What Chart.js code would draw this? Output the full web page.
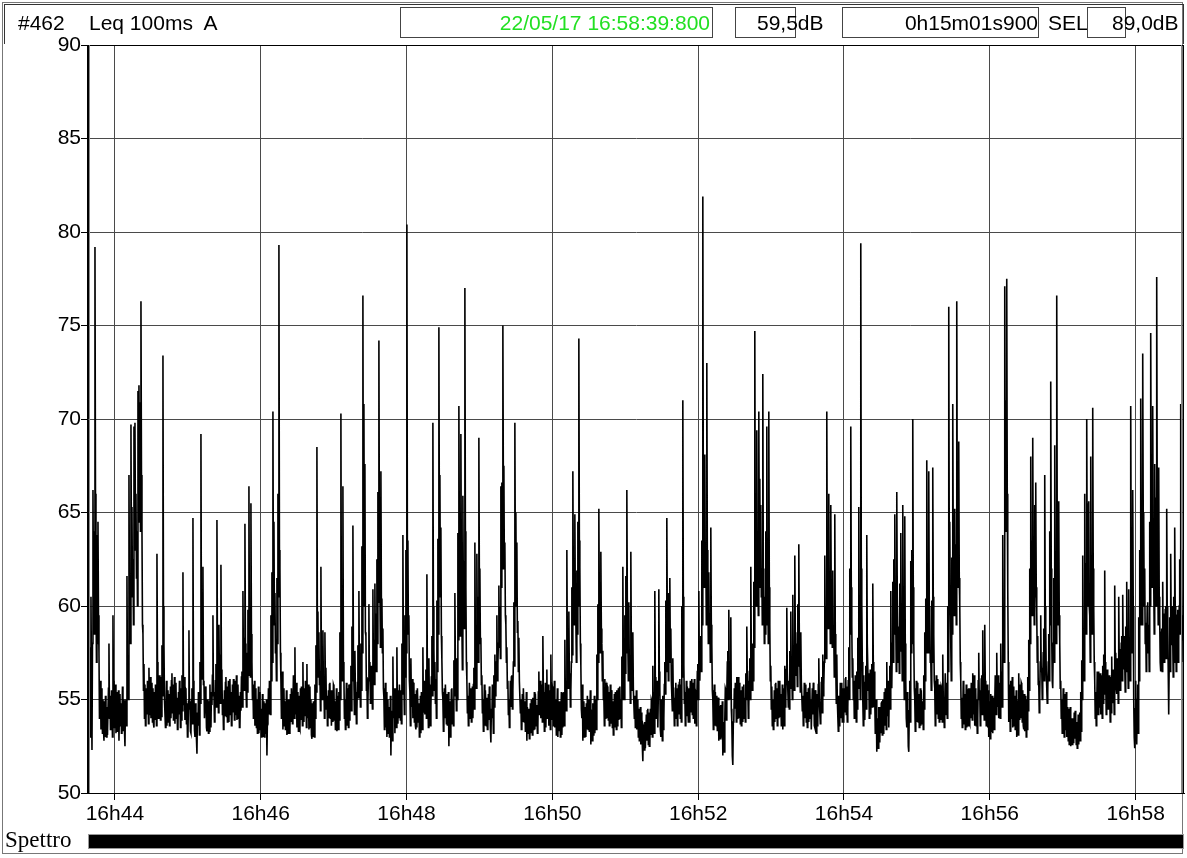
<!DOCTYPE html>
<html>
<head>
<meta charset="utf-8">
<script src="https://cdn.jsdelivr.net/npm/chart.js@4.4.1/dist/chart.umd.min.js"></script>
<style>
  html, body { margin:0; padding:0; background:#fff; }
  body { width:1187px; height:858px; position:relative; overflow:hidden;
         font-family:"Liberation Sans", Arial, sans-serif; color:#000; }
  #wrap { position:absolute; left:0; top:0; width:1187px; height:858px; }
  .frame { position:absolute; left:2px; top:2px; width:1181px; height:852px; border:1px solid #777; box-sizing:border-box; }
  .hdr { position:absolute; left:4px; top:4px; width:1180px; height:40px; border:1px solid #333; border-bottom:none; box-sizing:border-box; }
  .t { position:absolute; font-size:21px; line-height:31px; top:7px; white-space:nowrap; }
  .box { position:absolute; top:7px; height:31px; border:1px solid #444; box-sizing:border-box; }
  .spettro { position:absolute; left:5px; top:828px; font-family:"Liberation Serif","Times New Roman",serif; font-size:23px; line-height:24px; }
  .bar { position:absolute; left:88px; top:834px; width:1096px; height:15px; background:#000; border:1px solid #999; box-sizing:border-box; }
</style>
</head>
<body>
<div class="frame"></div>
<div class="hdr"></div>
<div id="wrap"><canvas id="c" width="1187" height="858"></canvas></div>

<div class="t" style="left:18px">#462</div>
<div class="t" style="left:89px">Leq 100ms&nbsp; A</div>
<div class="box" style="left:400px;width:313px"></div>
<div class="t" style="left:400px;width:310px;text-align:right;color:#22e022">22/05/17 16:58:39:800</div>
<div class="box" style="left:735px;width:61px"></div>
<div class="t" style="left:757px">59,5dB</div>
<div class="box" style="left:842px;width:197px"></div>
<div class="t" style="left:842px;width:196px;text-align:right">0h15m01s900</div>
<div class="t" style="left:1048px">SEL</div>
<div class="box" style="left:1087px;width:39px"></div>
<div class="t" style="left:1112px">89,0dB</div>

<div class="spettro">Spettro</div>
<div class="bar"></div>

<script>
// ---- data (Leq 100ms A, dB) ----
const FIRST_SAMPLE_MIN = 43 + 38.7 / 60;   // 16:43:38.7, minutes after 16h00
const INTERVAL_MIN = 0.8227 / 60;          // each interval is 0.8227 s; two readings per interval
const AXIS_START_MIN = 43 + 37.9 / 60;     // 16:43:37.9
const AXIS_END_MIN = 58 + 39.8 / 60;       // 16:58:39.8
const timeTicks = [44, 46, 48, 50, 52, 54, 56, 58];
const timeTickLabels = ["16h44", "16h46", "16h48", "16h50", "16h52", "16h54", "16h56", "16h58"];
const levelTicks = [50, 55, 60, 65, 70, 75, 80, 85, 90];

// first reading of each interval
const leqA = [
  52.0,57.8,60.5,52.3,66.2,64.0,79.2,60.4,63.8,64.5,57.5,54.2,53.4,54.9,55.0,52.8,53.0,54.3,54.6,53.1,58.0,55.2,53.6,54.4,59.5,56.0,54.0,53.2,55.2,53.7,52.8,55.3,54.8,53.9,53.3,54.7,52.5,55.0,61.6,57.3,
  67.0,60.2,69.7,65.3,62.5,69.6,69.8,66.0,64.0,71.5,71.8,70.9,76.3,64.1,58.5,56.9,55.8,53.9,54.2,55.4,56.7,54.6,54.0,55.9,55.6,53.5,53.9,55.2,62.8,56.1,54.5,55.7,56.2,57.9,73.4,58.0,55.0,54.3,53.6,55.5,
  55.3,53.9,54.0,56.4,55.8,54.5,53.7,55.9,55.1,53.6,54.2,55.0,55.6,56.3,61.8,54.7,53.9,55.5,54.8,53.1,58.7,54.9,53.2,55.6,64.7,55.1,53.0,54.2,52.1,53.6,54.6,57.0,69.2,60.3,62.1,56.0,54.0,55.2,53.3,54.6,
  54.9,55.8,53.5,54.7,59.5,55.4,54.2,56.9,64.6,56.2,59.0,57.4,62.2,56.3,55.0,53.7,54.1,56.2,55.7,54.4,53.8,56.1,55.4,53.9,54.3,55.6,56.0,54.5,53.9,55.8,55.2,53.6,54.4,56.5,60.8,58.3,64.4,56.0,57.5,59.8,
  66.4,58.9,65.5,57.0,55.8,54.4,53.6,55.3,55.0,54.0,53.2,55.1,54.5,53.4,53.0,54.6,54.8,53.3,52.0,53.9,54.2,56.0,59.5,61.8,70.4,64.5,60.7,58.2,61.5,66.0,79.3,62.0,56.0,54.8,53.4,55.6,54.9,53.7,53.1,55.0,
  55.0,53.4,53.8,55.6,54.7,55.9,57.8,54.2,53.5,54.8,55.2,53.4,53.9,55.5,57.0,53.8,54.1,55.3,56.9,54.0,53.4,55.7,55.0,52.9,53.0,54.6,55.8,57.9,68.5,59.7,58.6,56.4,62.1,57.3,58.7,55.9,58.6,56.7,55.2,53.9,
  54.0,55.9,55.5,53.6,53.8,55.7,54.9,53.8,53.3,55.0,55.4,58.6,70.3,59.1,66.4,56.2,55.0,54.2,53.6,55.4,55.8,54.3,56.8,58.9,64.3,56.0,57.6,55.2,54.4,57.9,60.8,56.3,58.0,63.2,76.6,70.8,67.6,58.4,56.2,54.9,
  60.1,57.0,55.0,56.8,60.9,58.2,61.2,59.6,62.5,66.1,74.2,61.0,67.2,60.4,58.8,55.1,54.2,53.5,53.0,55.0,54.6,53.3,52.0,54.4,57.3,54.0,53.2,55.6,57.8,53.7,54.0,55.8,55.5,58.0,63.8,55.9,59.5,63.0,80.4,63.5,
  59.5,55.4,57.2,54.6,54.0,55.7,55.3,53.4,53.5,55.6,54.8,53.1,53.2,55.4,57.8,54.3,54.2,56.6,61.7,55.0,57.2,55.8,54.6,58.4,69.8,57.7,57.0,56.1,60.3,63.6,74.9,67.0,64.2,57.1,55.0,53.7,54.0,55.8,55.3,53.6,
  52.5,54.9,53.8,55.6,55.0,57.1,60.7,56.0,57.2,63.9,70.7,62.5,69.2,59.1,65.9,62.4,77.0,61.0,56.0,55.2,54.3,55.9,55.6,54.1,54.0,56.7,63.4,58.0,62.8,60.5,69.0,62.0,58.3,56.3,55.0,54.2,53.6,55.5,55.1,53.5,
  53.9,55.2,52.7,54.0,54.8,56.3,57.4,55.5,59.5,56.9,61.1,60.0,66.4,66.6,75.0,67.5,63.4,59.0,57.8,56.0,55.0,54.4,54.6,56.3,55.5,60.2,69.8,65.0,63.4,59.2,58.3,56.0,55.0,53.5,53.8,55.6,54.9,53.7,52.8,54.6,
  54.5,53.0,53.2,54.8,55.1,53.7,53.4,55.3,54.7,53.6,56.5,54.4,54.0,55.6,58.4,55.0,54.3,53.5,56.6,54.2,53.6,55.5,57.4,53.9,55.6,54.6,53.5,54.8,54.2,53.0,53.3,54.6,54.0,53.1,53.5,55.4,58.2,56.0,63.0,57.1,
  59.7,56.4,55.5,61.0,67.2,62.0,64.9,59.3,61.9,64.5,74.3,62.1,56.8,54.0,52.8,54.9,54.6,53.0,53.4,55.2,55.0,53.6,52.6,54.3,54.8,53.5,53.2,55.0,57.4,60.1,65.2,59.8,62.9,58.0,57.6,55.2,56.1,54.8,54.0,55.6,
  55.4,54.0,53.7,55.2,54.9,53.4,53.5,55.1,55.5,54.3,53.9,55.7,55.0,57.3,62.1,57.0,59.5,61.6,66.2,58.0,60.2,56.8,62.9,57.5,58.6,55.6,55.2,53.9,53.4,54.8,54.5,52.9,52.6,54.0,51.7,53.5,53.8,52.4,52.8,54.5,
  54.3,52.6,53.1,54.9,56.8,55.4,60.8,56.2,54.5,53.5,60.9,55.6,53.0,54.6,55.2,54.0,57.0,60.3,64.7,58.2,60.7,61.5,58.8,56.0,57.2,55.1,54.0,55.9,55.6,54.3,54.2,56.1,55.8,60.0,71.0,56.9,55.4,54.6,54.1,55.7,
  55.6,54.6,54.3,56.1,55.9,54.4,53.7,55.4,55.0,56.9,60.8,56.0,58.4,63.5,81.9,66.0,68.1,62.8,73.0,60.9,61.8,59.6,64.2,58.0,55.0,54.2,53.6,55.4,55.2,53.3,52.8,54.5,54.7,53.2,52.0,53.6,54.0,55.5,55.3,57.6,
  59.8,55.0,59.4,53.8,51.5,53.9,54.5,55.6,56.2,54.7,54.0,55.3,55.5,53.9,53.8,55.8,55.1,56.4,58.9,55.7,54.6,57.2,62.1,56.9,58.0,61.3,74.7,63.0,69.4,62.2,70.4,66.8,65.4,62.0,72.4,61.1,60.5,64.0,69.6,60.8,
  70.4,59.0,56.8,55.7,55.0,53.6,53.8,55.9,55.6,54.3,54.0,56.0,55.3,54.2,53.4,55.3,56.8,55.0,59.9,56.5,56.0,57.6,59.7,56.8,60.6,57.3,62.7,58.5,58.0,60.1,63.3,57.2,58.6,56.0,55.2,54.1,54.0,55.8,55.4,53.6,
  53.8,55.9,55.0,53.4,54.2,55.5,53.5,54.7,55.3,53.9,57.2,55.0,54.0,56.2,57.4,55.8,62.7,60.0,70.4,62.3,66.0,61.0,65.4,60.5,61.9,58.4,64.9,56.7,57.4,55.0,55.2,54.3,54.0,55.9,55.6,54.0,54.3,56.2,55.7,54.6,
  57.8,62.0,69.6,59.0,57.2,56.0,54.6,55.5,56.5,58.3,65.3,57.5,79.4,60.2,55.0,56.3,53.9,56.8,63.8,58.0,56.4,55.0,54.2,56.9,61.2,54.6,55.0,53.3,52.2,53.8,54.6,52.7,53.2,54.9,55.0,53.4,53.6,55.3,57.0,54.1,
  53.5,56.8,60.8,55.6,61.3,62.5,64.9,59.2,66.1,60.5,58.9,61.2,63.9,58.6,65.4,57.0,64.8,56.0,53.5,54.4,52.2,56.0,62.4,63.0,70.0,58.2,55.0,54.2,53.8,55.6,55.3,53.7,53.6,55.5,54.9,56.3,58.6,60.4,67.8,60.6,
  67.2,59.6,57.2,60.3,67.4,58.5,55.6,54.6,54.2,56.1,55.8,54.0,53.9,55.6,57.4,55.1,54.8,56.4,55.9,60.0,76.0,64.5,58.0,62.6,70.8,63.0,65.2,63.3,76.3,66.0,68.8,60.1,56.0,55.1,54.2,55.8,55.3,54.0,53.5,55.4,
  55.6,53.7,54.0,55.9,56.4,54.2,53.6,55.4,55.0,54.0,57.5,55.5,54.2,56.3,58.7,55.6,59.0,55.2,54.4,53.5,53.0,54.6,55.3,53.4,53.2,55.1,54.8,56.3,57.5,54.6,54.0,55.9,58.0,56.5,63.8,60.0,77.1,71.0,77.5,61.0,
  53.8,55.0,56.0,54.4,53.5,55.7,55.2,53.6,53.0,54.8,56.4,53.9,54.0,55.8,55.5,53.4,53.3,54.9,55.0,56.2,58.2,62.0,68.0,63.5,69.0,62.3,65.4,66.6,59.7,58.4,56.0,55.2,59.5,56.7,56.0,58.8,67.0,59.0,56.5,55.4,
  58.5,64.0,72.0,58.3,55.6,61.5,68.6,60.4,76.6,62.4,65.6,58.1,56.0,55.0,54.0,54.8,55.3,53.6,53.0,54.3,54.5,53.1,52.5,54.0,54.0,52.8,52.9,53.7,53.8,52.9,52.6,54.3,55.4,57.1,62.7,58.0,66.0,62.3,70.0,65.5,
  65.6,59.5,68.0,62.0,70.6,60.0,56.0,55.4,54.6,55.9,56.5,54.8,54.2,55.6,56.8,57.4,61.9,56.0,55.0,56.4,54.6,55.2,56.2,57.3,54.8,56.0,61.1,57.5,55.3,56.8,60.5,57.7,56.0,58.4,60.6,56.6,57.0,58.9,61.3,57.8,
  60.9,58.3,70.7,60.5,66.2,55.0,52.4,56.0,52.6,55.8,59.4,63.0,71.1,62.4,73.5,64.6,62.0,59.1,58.0,60.2,59.0,64.5,74.6,66.0,70.7,61.4,67.6,65.8,77.6,62.0,67.4,59.3,56.5,58.8,61.3,59.6,57.8,60.0,65.2,59.0,
  54.2,59.4,62.8,57.9,58.4,60.5,64.2,58.8,57.0,59.8,58.2,62.5,70.8,61.0,59.5
];

// second reading of each interval
const leqB = [
  55.5,53.0,56.0,58.0,60.0,58.5,66.0,57.0,58.0,59.5,54.0,56.0,55.6,53.2,53.4,54.9,55.2,53.0,53.1,55.6,54.0,53.4,55.5,53.0,55.0,53.5,55.8,55.4,53.3,55.5,54.6,53.6,53.2,55.7,55.0,53.4,54.9,53.6,56.0,55.0,
  60.0,58.0,62.0,60.5,59.0,63.0,64.0,61.5,60.0,64.5,66.0,64.0,67.0,59.0,55.5,54.0,53.6,55.6,56.0,53.7,54.2,56.2,55.8,53.8,53.7,55.4,55.8,53.6,57.0,54.0,56.3,53.9,54.1,55.2,60.0,55.0,53.5,56.0,55.4,53.8,
  53.6,55.7,56.0,54.3,53.9,56.2,55.5,54.0,53.4,55.4,56.0,53.5,53.9,54.4,55.4,56.2,55.6,53.7,53.0,54.9,54.5,53.3,55.0,53.7,56.0,53.4,54.8,52.9,54.3,55.4,53.1,54.8,58.0,56.1,55.8,54.0,55.7,53.5,55.0,53.2,
  53.3,54.0,55.4,56.3,55.2,53.8,56.0,54.6,57.5,54.3,55.8,54.8,56.6,54.2,53.4,55.5,55.9,54.1,53.8,56.0,55.6,54.2,53.6,55.8,56.1,53.9,54.2,56.3,55.7,54.0,53.5,55.4,56.2,54.6,56.8,55.5,58.0,54.6,55.4,56.3,
  58.0,56.2,58.5,55.0,54.0,56.0,55.6,53.5,53.2,55.7,55.4,53.4,53.0,55.3,54.9,53.0,53.2,55.0,54.0,55.6,56.0,54.2,56.0,57.0,60.0,59.0,57.5,56.0,58.0,60.5,63.0,57.5,54.0,56.5,55.4,53.6,53.4,55.5,55.0,53.2,
  53.2,55.3,55.6,53.7,56.3,54.0,54.4,55.9,55.4,53.3,53.5,55.6,55.7,53.6,54.2,55.6,56.0,53.5,54.0,55.8,55.6,53.5,53.1,54.8,54.9,53.0,54.0,55.4,58.0,56.2,55.8,54.4,56.5,55.0,55.6,54.0,55.7,54.5,53.6,55.5,
  55.8,54.0,53.6,55.5,55.8,53.9,53.4,55.6,55.2,53.4,53.9,55.0,58.0,56.0,57.0,54.0,53.4,55.9,55.6,53.5,53.9,55.8,54.4,56.0,57.5,54.2,55.4,53.7,55.9,55.1,56.4,54.6,55.5,57.5,62.0,60.0,58.6,55.5,54.0,56.1,
  56.0,54.8,56.8,54.5,56.6,55.8,57.0,56.5,58.0,60.2,63.0,57.8,60.0,57.5,55.6,53.4,55.9,55.4,54.8,53.2,53.0,55.2,54.2,52.8,54.2,55.6,55.0,53.5,54.4,55.5,55.8,53.9,53.7,55.3,57.0,54.2,56.2,57.5,62.0,58.5,
  56.0,53.6,54.8,56.1,55.9,53.8,53.6,55.5,55.6,53.8,53.0,55.2,55.4,53.4,54.5,56.0,55.9,54.0,56.0,53.5,54.8,53.6,56.2,55.2,60.0,55.5,54.8,54.0,56.5,58.5,64.0,60.5,58.4,55.4,53.3,55.6,55.8,53.7,53.6,55.4,
  54.6,53.0,55.5,53.7,53.6,55.2,56.8,54.4,55.0,58.2,63.0,58.4,61.5,56.6,60.0,58.8,64.0,57.0,54.3,53.6,55.9,54.0,53.8,55.7,55.8,54.5,57.5,55.6,58.0,57.0,61.0,58.0,55.8,54.3,53.3,55.8,55.5,53.6,53.4,55.3,
  55.7,53.5,54.5,55.8,53.2,54.6,55.2,57.0,56.0,58.0,57.8,57.2,61.0,62.0,66.0,62.0,59.5,57.0,55.6,54.2,53.5,56.0,56.2,54.5,57.0,56.8,62.0,60.0,58.6,56.5,56.0,54.3,53.4,55.3,55.6,53.8,53.3,55.4,54.6,53.2,
  52.9,54.8,55.0,53.1,53.4,55.4,55.3,53.6,53.2,55.4,54.2,56.0,55.8,53.8,55.4,53.3,55.9,55.3,54.0,55.8,55.4,53.4,54.6,55.7,53.6,56.0,55.0,53.1,55.6,54.8,54.9,53.0,55.4,54.8,55.3,53.6,55.0,54.4,57.5,55.6,
  56.2,54.6,57.0,57.4,61.0,59.0,60.0,57.0,58.5,60.0,63.5,58.0,54.5,55.8,54.6,53.0,53.2,54.8,55.2,53.4,53.3,55.5,54.4,52.8,53.1,55.2,54.9,53.4,55.0,57.0,60.0,57.5,58.8,56.0,55.0,53.6,54.0,55.9,55.7,53.9,
  53.6,55.8,55.5,53.5,53.1,55.3,55.4,53.4,53.6,55.6,55.6,54.0,53.5,55.0,57.0,55.0,56.4,57.5,60.0,56.0,56.5,54.8,57.8,55.5,55.6,54.0,53.5,55.5,55.0,53.0,52.8,54.6,54.3,52.5,53.6,52.3,52.4,54.2,54.4,52.6,
  52.5,54.5,55.0,53.0,54.5,53.2,56.0,54.0,56.0,55.3,56.5,53.4,55.0,52.8,53.4,55.8,55.3,56.5,59.0,56.0,57.0,57.5,56.0,54.4,55.0,53.6,55.6,54.0,53.6,55.8,55.9,54.0,53.8,56.2,60.5,54.8,53.6,56.0,55.7,53.8,
  53.8,56.0,55.9,54.2,54.0,56.1,55.5,53.6,56.5,55.0,57.0,58.0,56.5,59.0,65.0,61.0,61.5,59.0,63.0,58.0,58.5,57.0,59.0,55.5,53.4,55.8,55.4,53.6,53.3,55.1,54.6,52.9,53.0,54.9,53.8,52.2,55.6,53.9,57.0,55.0,
  55.6,57.0,54.5,52.0,53.8,55.6,55.9,53.8,54.0,56.2,55.9,53.7,53.6,55.7,55.6,54.0,53.8,55.0,56.0,54.0,56.5,55.0,57.5,55.5,56.0,57.8,63.0,60.0,62.0,59.5,63.0,61.0,60.5,59.0,62.0,58.0,58.5,59.0,61.5,58.0,
  61.0,56.0,54.5,53.6,53.4,55.5,55.8,54.0,53.6,56.0,55.9,54.1,53.6,55.8,55.6,53.6,54.6,56.6,56.5,54.6,54.5,55.6,56.5,55.0,57.0,55.5,58.6,56.3,55.7,56.8,58.5,55.4,56.0,54.4,53.6,55.9,55.7,53.8,53.5,55.6,
  55.6,54.0,53.4,55.6,55.9,53.6,55.5,53.2,53.6,55.8,55.0,53.7,55.9,54.3,55.2,57.0,58.5,57.2,62.0,58.8,60.5,58.0,60.2,57.8,58.0,56.2,58.5,54.8,55.0,53.3,53.6,55.9,55.8,53.8,53.8,55.6,56.1,54.2,53.8,56.0,
  55.0,58.5,61.0,56.2,55.0,54.0,56.3,53.8,54.5,55.6,59.0,55.0,62.0,57.0,53.6,54.2,55.9,54.5,58.0,55.5,54.0,56.6,56.0,54.6,57.0,56.5,53.2,55.0,54.0,52.4,52.9,54.6,54.8,53.1,53.2,55.4,55.6,53.4,54.9,56.0,
  55.6,54.5,56.0,58.0,57.0,58.5,60.0,56.5,60.5,57.0,56.4,57.6,59.0,56.0,59.5,55.0,58.0,54.0,55.4,52.5,54.4,53.8,57.5,58.0,61.0,55.6,53.3,56.0,55.9,53.8,53.5,55.6,55.5,53.7,53.4,54.5,56.0,57.5,60.5,57.5,
  60.0,57.0,55.5,57.0,60.5,56.0,53.6,56.3,56.0,54.0,53.8,55.8,55.7,53.8,55.0,53.5,56.4,54.2,54.0,56.5,63.0,60.0,56.0,58.5,63.0,59.5,60.5,59.0,65.0,61.0,61.5,57.0,54.0,53.5,56.0,53.7,53.4,55.8,55.5,53.6,
  53.8,55.6,55.9,53.9,54.4,56.3,55.6,53.6,53.2,56.0,55.0,53.6,56.1,54.2,55.6,53.9,56.0,53.6,55.8,55.5,54.9,52.9,53.3,55.2,54.9,53.4,56.3,54.2,55.0,56.3,55.7,54.0,55.5,54.6,58.5,57.0,66.0,64.0,66.0,57.0,
  55.8,53.3,54.0,56.2,55.6,53.6,53.4,55.5,54.9,53.1,54.2,55.8,55.9,53.8,53.6,55.3,55.2,53.0,53.4,54.4,55.5,58.0,61.0,59.5,62.0,59.0,60.5,61.0,57.0,55.8,54.3,57.0,56.5,55.0,57.5,56.0,60.0,56.5,54.8,57.0,
  56.0,59.0,62.0,56.0,58.0,57.0,61.0,58.0,64.0,59.0,59.5,55.6,54.0,53.2,55.6,53.0,53.4,55.4,54.6,52.8,52.6,54.6,54.0,52.6,52.7,54.3,54.4,52.6,52.4,54.2,54.0,52.8,53.3,55.0,57.5,56.0,59.0,58.5,62.0,60.0,
  60.0,57.0,61.0,58.5,62.0,57.0,54.0,53.6,56.5,54.2,54.6,56.4,56.3,54.0,54.8,55.3,57.0,54.2,56.6,54.5,56.3,53.8,54.3,55.0,56.6,54.2,57.0,55.6,57.2,54.8,57.0,55.5,58.0,56.0,57.5,58.4,55.4,56.5,58.0,55.6,
  57.5,56.0,62.0,57.5,60.0,53.0,54.5,53.0,55.0,53.2,56.0,59.0,64.0,59.0,65.0,60.0,58.0,56.5,60.0,57.5,56.5,60.0,66.0,61.0,63.0,58.5,62.0,60.0,66.0,59.0,60.5,57.0,58.6,56.5,58.0,57.0,59.8,57.2,60.0,56.6,
  57.0,56.5,59.0,60.0,56.2,57.0,60.0,56.5,59.5,57.0,60.0,58.5,63.0,58.2,57.0
];

// both readings of each interval, in time order (minutes after 16h00)
const points = [];
leqA.forEach((v, i) => {
  points.push({ x: FIRST_SAMPLE_MIN + i * INTERVAL_MIN, y: v });
  if (i < leqB.length) points.push({ x: FIRST_SAMPLE_MIN + (i + 0.5) * INTERVAL_MIN, y: leqB[i] });
});

const frame = {
  id: 'frame',
  afterDraw(chart) {
    const { ctx, chartArea: a } = chart;
    ctx.save();
    ctx.strokeStyle = '#000';
    ctx.lineWidth = 1;
    ctx.strokeRect(Math.round(a.left) - 0.5, Math.round(a.top) + 0.5, Math.round(a.right - a.left), Math.round(a.bottom - a.top));
    ctx.strokeStyle = '#888';
    ctx.beginPath();
    ctx.moveTo(Math.round(a.left) + 1.5, a.top); ctx.lineTo(Math.round(a.left) + 1.5, a.bottom);
    ctx.moveTo(Math.round(a.right) - 2.5, a.top); ctx.lineTo(Math.round(a.right) - 2.5, a.bottom);
    ctx.stroke();
    ctx.restore();
  }
};

new Chart(document.getElementById('c'), {
  type: 'line',
  data: { datasets: [{ data: points, borderColor: '#000', borderWidth: 1.6, pointRadius: 0, tension: 0, fill: false }] },
  options: {
    responsive: false,
    animation: false,
    parsing: false,
    layout: { padding: { left: 0, top: 45, right: 3, bottom: 25 } },
    plugins: { legend: { display: false }, tooltip: { enabled: false }, title: { display: false } },
    scales: {
      x: {
        type: 'linear', min: AXIS_START_MIN, max: AXIS_END_MIN,
        afterBuildTicks(s) { s.ticks = timeTicks.map(v => ({ value: v })); },
        afterFit(s) { s.height = 40; },
        grid: { color: '#4a4a4a', lineWidth: 1, tickLength: 7, tickColor: '#000', drawTicks: true },
        border: { display: true, color: '#000', width: 1 },
        ticks: {
          color: '#000', padding: 2, maxRotation: 0, autoSkip: false,
          font: { family: '"Liberation Sans", Arial, sans-serif', size: 21 },
          callback: (v) => { const k = timeTicks.indexOf(v); return k >= 0 ? timeTickLabels[k] : ''; }
        }
      },
      y: {
        type: 'linear', min: 50, max: 90,
        afterBuildTicks(s) { s.ticks = levelTicks.map(v => ({ value: v })); },
        afterFit(s) { s.width = 88; },
        grid: { color: '#4a4a4a', lineWidth: 1, tickLength: 7, tickColor: '#000' },
        border: { display: true, color: '#000', width: 1 },
        ticks: {
          color: '#000', padding: 0,
          font: { family: '"Liberation Sans", Arial, sans-serif', size: 21 },
          callback: (v) => String(v)
        }
      }
    }
  },
  plugins: [frame]
});
</script>
</body>
</html>
